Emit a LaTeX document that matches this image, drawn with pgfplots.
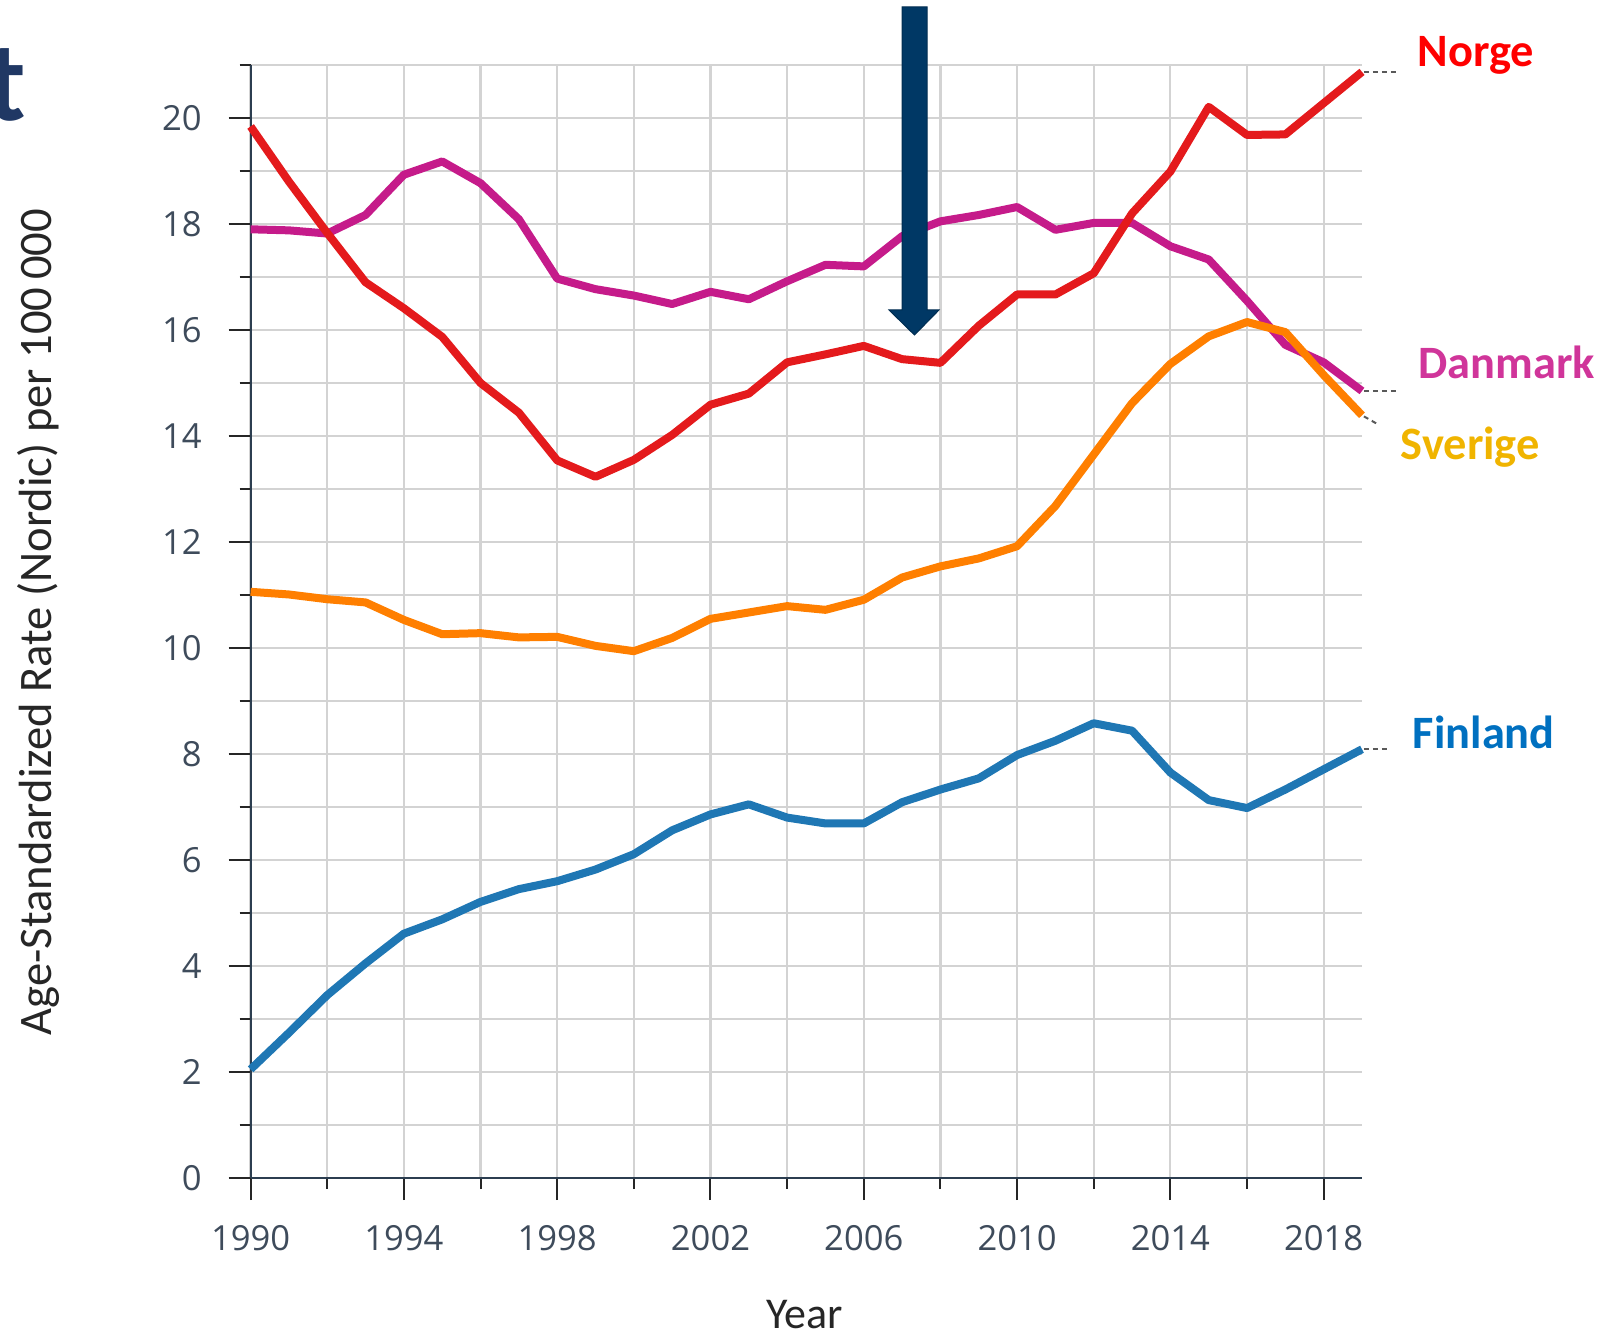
\documentclass[border=0pt]{standalone}
\usepackage{pgfplots}
\pgfplotsset{compat=1.18}
\usepackage{fontspec}
\setmainfont{Carlito}
\newfontfamily\tickfont{Open Sans}
\definecolor{norgeL}{HTML}{E41A1C}
\definecolor{danmarkL}{HTML}{C51B8A}
\definecolor{sverigeL}{HTML}{FF7F00}
\definecolor{finlandL}{HTML}{1F77B4}
\definecolor{norgeT}{HTML}{FF0000}
\definecolor{danmarkT}{HTML}{D0359A}
\definecolor{sverigeT}{HTML}{F0B400}
\definecolor{finlandT}{HTML}{0070C0}
\definecolor{gridc}{HTML}{D3D3D3}
\definecolor{axisc}{HTML}{2C3E50}
\definecolor{tickc}{HTML}{3E4B5B}
\definecolor{arrowc}{HTML}{003865}
\definecolor{titlec}{HTML}{203864}

\pgfplotstableread{
year norge danmark sverige finland
1990 19.84 17.90 11.06 2.05
1991 18.80 17.88 11.01 2.74
1992 17.83 17.82 10.92 3.45
1993 16.90 18.17 10.86 4.05
1994 16.41 18.93 10.53 4.61
1995 15.87 19.18 10.26 4.88
1996 15.00 18.77 10.28 5.21
1997 14.44 18.09 10.20 5.45
1998 13.54 16.97 10.21 5.60
1999 13.23 16.77 10.04 5.82
2000 13.55 16.65 9.94 6.11
2001 14.02 16.49 10.19 6.56
2002 14.59 16.72 10.55 6.86
2003 14.80 16.58 10.67 7.05
2004 15.39 16.92 10.79 6.80
2005 15.54 17.23 10.72 6.69
2006 15.70 17.20 10.91 6.69
2007 15.45 17.77 11.33 7.09
2008 15.38 18.05 11.54 7.33
2009 16.08 18.17 11.69 7.54
2010 16.67 18.32 11.92 7.98
2011 16.67 17.89 12.68 8.25
2012 17.07 18.02 13.65 8.58
2013 18.20 18.02 14.62 8.44
2014 18.99 17.58 15.36 7.65
2015 20.21 17.33 15.88 7.13
2016 19.68 16.55 16.15 6.98
2017 19.69 15.72 15.96 7.33
2018 20.28 15.39 15.15 7.71
2019 20.87 14.85 14.39 8.09
}\datatable

\begin{document}
\begin{tikzpicture}
\useasboundingbox (-125.3bp,-79.5bp) rectangle (686.7bp,589bp);
\begin{axis}[
  at={(0,0)}, anchor=south west,
  scale only axis, width=555.7bp, height=556.5bp,
  xmin=1990, xmax=2019, ymin=0, ymax=21,
  clip=false,
  axis x line*=bottom, axis y line*=left,
  axis line style={-, draw=axisc, line width=1bp},
  xtick={1990,1994,...,2018}, minor xtick={1992,1996,...,2016},
  ytick={0,2,...,20}, minor ytick={1,3,...,21},
  grid=both,
  major grid style={draw=gridc, line width=1.1bp},
  minor grid style={draw=gridc, line width=1.1bp},
  tick align=outside,
  major tick length=11bp, minor tick length=5.5bp,
  every tick/.style={draw=black!85, line width=1bp},
  /pgf/number format/1000 sep={},
  /pgf/number format/assume math mode=true,
  xticklabel style={font=\tickfont\fontsize{17.3bp}{18bp}\selectfont, text=tickc, anchor=center, inner sep=0pt, yshift=-19bp},
  yticklabel style={font=\tickfont\fontsize{17.3bp}{18bp}\selectfont, text=tickc, anchor=east, inner sep=0pt, xshift=-13.3bp},
  xlabel={Year},
  ylabel={Age-Standardized Rate (Nordic) per 100\,000},
  xlabel style={font=\fontsize{22bp}{24bp}\selectfont, text=black!85, at={(rel axis cs:0.4988,-0.1225)}, anchor=center, inner sep=0pt},
  ylabel style={font=\fontsize{23.3bp}{24bp}\selectfont, text=black!85, at={(rel axis cs:-0.1913,0.4996)}, anchor=center, inner sep=0pt, rotate=0},
  no markers,
]
\addplot[danmarkL, line width=4bp, line join=round] table[x=year, y=danmark] {\datatable};
\addplot[norgeL, line width=4bp, line join=round] table[x=year, y=norge] {\datatable};
\addplot[sverigeL, line width=4bp, line join=round] table[x=year, y=sverige] {\datatable};
\addplot[finlandL, line width=4bp, line join=round] table[x=year, y=finland] {\datatable};

\draw[black!65, line width=1bp, dash pattern=on 2.5bp off 2bp] (axis cs:2019.05,20.87) -- (axis cs:2019.93,20.87);
\draw[black!65, line width=1bp, dash pattern=on 2.5bp off 2bp] (axis cs:2019.05,14.85) -- (axis cs:2019.93,14.85);
\draw[black!65, line width=1bp, dash pattern=on 2.5bp off 2bp] (axis cs:2019.05,14.37) -- (axis cs:2019.44,14.21);
\draw[black!65, line width=1bp, dash pattern=on 2.5bp off 2bp] (axis cs:2019.05,8.09) -- (axis cs:2019.75,8.09);

\node[anchor=base west, inner sep=0pt, text=norgeT, font=\bfseries\fontsize{23.2bp}{24bp}\selectfont] at (axis cs:2020.44,20.98) {Norge};
\node[anchor=base west, inner sep=0pt, text=danmarkT, font=\bfseries\fontsize{23.2bp}{24bp}\selectfont] at (axis cs:2020.47,15.08) {Danmark};
\node[anchor=base west, inner sep=0pt, text=sverigeT, font=\bfseries\fontsize{23.2bp}{24bp}\selectfont] at (axis cs:2020.0,13.55) {Sverige};
\node[anchor=base west, inner sep=0pt, text=finlandT, font=\bfseries\fontsize{23.2bp}{24bp}\selectfont] at (axis cs:2020.32,8.11) {Finland};
\node[anchor=base east, inner sep=0pt, text=titlec, font=\bfseries\fontsize{57bp}{60bp}\selectfont] at (axis cs:1984.16,19.96) {t};
\end{axis}
% annotation arrow
\filldraw[fill=arrowc, draw=arrowc!80!black, line width=0.5bp]
  (325.7bp,585.5bp) -- (338.2bp,585.5bp) -- (338.2bp,434bp) -- (344.2bp,434bp)
  -- (331.95bp,421.5bp) -- (319.2bp,434bp) -- (325.7bp,434bp) -- cycle;
\end{tikzpicture}
\end{document}
